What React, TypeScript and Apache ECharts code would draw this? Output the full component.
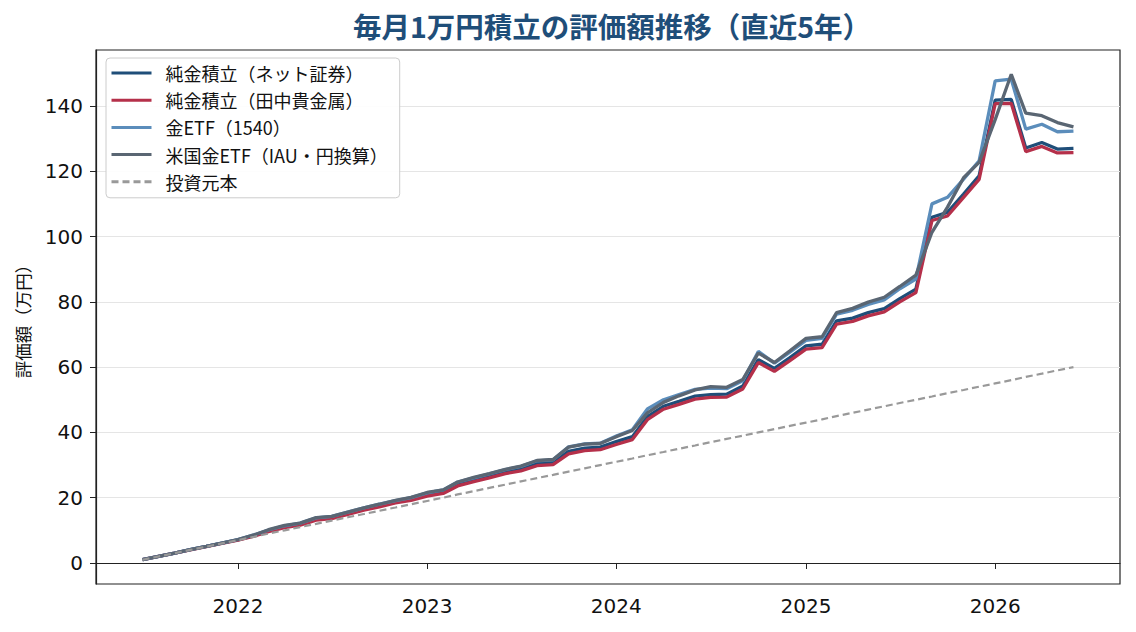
import React, { useEffect, useRef } from "react";
import * as echarts from "echarts";

// Month-end valuation points, July 2021 through June 2026
const months: string[] = [
  "2021-07-01", "2021-08-01", "2021-09-01", "2021-10-01", "2021-11-01", "2021-12-01",
  "2022-01-01", "2022-02-01", "2022-03-01", "2022-04-01", "2022-05-01", "2022-06-01",
  "2022-07-01", "2022-08-01", "2022-09-01", "2022-10-01", "2022-11-01", "2022-12-01",
  "2023-01-01", "2023-02-01", "2023-03-01", "2023-04-01", "2023-05-01", "2023-06-01",
  "2023-07-01", "2023-08-01", "2023-09-01", "2023-10-01", "2023-11-01", "2023-12-01",
  "2024-01-01", "2024-02-01", "2024-03-01", "2024-04-01", "2024-05-01", "2024-06-01",
  "2024-07-01", "2024-08-01", "2024-09-01", "2024-10-01", "2024-11-01", "2024-12-01",
  "2025-01-01", "2025-02-01", "2025-03-01", "2025-04-01", "2025-05-01", "2025-06-01",
  "2025-07-01", "2025-08-01", "2025-09-01", "2025-10-01", "2025-11-01", "2025-12-01",
  "2026-01-01", "2026-02-01", "2026-03-01", "2026-04-01", "2026-05-01", "2026-06-01",
];

// 純金積立（ネット証券）
const netBroker: number[] = [
  1.0, 2.0, 3.0, 4.1, 5.1, 6.1, 7.1, 8.4, 9.9, 11.2, 12.0, 13.5,
  14.0, 15.3, 16.6, 17.7, 18.9, 19.7, 21.1, 21.9, 24.3, 25.6, 26.8, 28.1,
  28.9, 30.6, 30.9, 34.2, 35.2, 35.5, 37.2, 38.7, 44.8, 48.0, 49.5, 51.1,
  51.6, 51.7, 54.2, 62.3, 59.6, 62.9, 66.5, 67.0, 74.2, 75.0, 76.7, 77.9,
  81.0, 83.9, 105.9, 107.4, 113.0, 118.6, 141.8, 142.0, 127.1, 128.8, 126.8, 127.0,
];

// 純金積立（田中貴金属）
const tanaka: number[] = [
  1.0, 2.0, 3.0, 4.0, 5.0, 6.0, 7.0, 8.2, 9.6, 10.8, 11.6, 13.1,
  13.6, 14.9, 16.2, 17.2, 18.4, 19.2, 20.5, 21.3, 23.6, 24.9, 26.1, 27.4,
  28.2, 29.8, 30.1, 33.4, 34.4, 34.7, 36.3, 37.8, 43.9, 47.1, 48.6, 50.2,
  50.7, 50.8, 53.3, 61.4, 58.7, 62.0, 65.5, 66.0, 73.2, 74.0, 75.7, 76.9,
  80.0, 82.8, 104.9, 106.3, 112.0, 117.5, 140.7, 140.8, 126.0, 127.6, 125.6, 125.7,
];

// 金ETF（1540）
const etf1540: number[] = [
  1.0, 2.0, 3.0, 4.1, 5.1, 6.1, 7.2, 8.6, 10.1, 11.4, 12.2, 13.8,
  14.3, 15.6, 16.9, 18.0, 19.1, 20.0, 21.5, 22.4, 24.8, 26.1, 27.3, 28.6,
  29.6, 31.3, 31.6, 35.6, 36.5, 36.7, 38.9, 40.8, 47.2, 50.0, 51.6, 53.2,
  53.6, 53.4, 55.8, 64.8, 61.2, 64.6, 68.2, 68.8, 76.2, 77.4, 79.2, 80.6,
  84.0, 87.0, 110.0, 112.0, 117.6, 123.2, 147.7, 148.2, 132.9, 134.4, 132.1, 132.3,
];

// 米国金ETF（IAU・円換算）
const iauYen: number[] = [
  1.0, 2.0, 3.0, 4.1, 5.1, 6.1, 7.2, 8.6, 10.2, 11.5, 12.2, 13.9,
  14.3, 15.6, 16.9, 18.0, 19.2, 20.1, 21.6, 22.4, 24.8, 26.2, 27.4, 28.7,
  29.7, 31.4, 31.7, 35.5, 36.4, 36.6, 38.7, 40.6, 46.0, 49.2, 51.2, 53.0,
  54.0, 53.8, 56.2, 64.3, 61.4, 65.0, 68.8, 69.3, 76.7, 78.0, 79.9, 81.4,
  84.7, 88.2, 101.3, 109.0, 118.0, 122.7, 135.8, 149.7, 137.8, 137.0, 134.9, 133.6,
];

// 投資元本 (1万円 per month, cumulative)
const principal: number[] = [
  1, 2, 3, 4, 5, 6, 7, 8, 9, 10, 11, 12,
  13, 14, 15, 16, 17, 18, 19, 20, 21, 22, 23, 24,
  25, 26, 27, 28, 29, 30, 31, 32, 33, 34, 35, 36,
  37, 38, 39, 40, 41, 42, 43, 44, 45, 46, 47, 48,
  49, 50, 51, 52, 53, 54, 55, 56, 57, 58, 59, 60,
];

const yTicks: number[] = [0, 20, 40, 60, 80, 100, 120, 140];
const xTickYears: string[] = ["2022-01-01", "2023-01-01", "2024-01-01", "2025-01-01", "2026-01-01"];

const FONT = "'Noto Sans CJK JP', 'Noto Sans', sans-serif";
const NUM_FONT = "'DejaVu Sans', 'Noto Sans CJK JP', sans-serif";

const ts = (d: string) => Date.parse(d + "T00:00:00Z");
const pair = (vals: number[]) => vals.map((v, i) => [ts(months[i]), v]);

export default function App() {
  const ref = useRef<HTMLDivElement>(null);

  useEffect(() => {
    if (!ref.current) return;
    const chart = echarts.init(ref.current, undefined, { renderer: "svg" });

    const t0 = ts(months[0]);
    const t1 = ts(months[months.length - 1]);
    const padT = (t1 - t0) * 0.05;
    const vMin = 1;
    const vMax = 149.7;
    const padV = (vMax - vMin) * 0.05;
    const xTickValues = xTickYears.map(ts);

    const lineSeries = (name: string, vals: number[], color: string, z: number, lineExtra: any = {}) => ({
      name,
      type: "line",
      data: pair(vals),
      symbol: "none",
      showSymbol: false,
      z,
      lineStyle: { color, width: 3.3, ...lineExtra },
      itemStyle: { color },
    });

    chart.setOption({
      animation: false,
      textStyle: { fontFamily: FONT },
      title: {
        text: "毎月1万円積立の評価額推移（直近5年）",
        left: 607,
        textAlign: "center",
        top: 6,
        textStyle: { fontFamily: FONT, fontSize: 28.5, fontWeight: "bold", color: "#1f4e79" },
      },
      legend: {
        orient: "vertical",
        left: 106,
        top: 58,
        padding: [6, 12, 7, 4],
        itemGap: 9.2,
        itemWidth: 40,
        itemHeight: 18,
        backgroundColor: "rgba(255,255,255,0.9)",
        borderColor: "#cccccc",
        borderWidth: 1,
        borderRadius: 4,
        itemStyle: { opacity: 0 },
        lineStyle: { width: 3 },
        textStyle: { fontFamily: FONT, fontSize: 18, lineHeight: 18, color: "#111", padding: [0, 0, 0, 9] },
        data: [
          "純金積立（ネット証券）",
          "純金積立（田中貴金属）",
          "金ETF（1540）",
          "米国金ETF（IAU・円換算）",
          "投資元本",
        ],
      },
      grid: {
        left: 96,
        right: 16,
        top: 50,
        bottom: 48,
        outerBoundsMode: "none",
        containLabel: false,
        show: true,
        borderColor: "#222",
        borderWidth: 1.2,
        backgroundColor: "transparent",
      },
      xAxis: {
        type: "value",
        min: t0 - padT,
        max: t1 + padT,
        axisLine: { show: true, lineStyle: { color: "#222", width: 1.2 } },
        axisTick: {
          show: true,
          length: 6,
          lineStyle: { color: "#222" },
          customValues: xTickValues,
        },
        axisLabel: {
          fontFamily: NUM_FONT,
          fontSize: 20,
          color: "#111",
          margin: 12,
          customValues: xTickValues,
          formatter: (v: number) => String(new Date(v).getUTCFullYear()),
        },
        splitLine: { show: false },
      },
      yAxis: {
        type: "value",
        min: vMin - padV,
        max: vMax + padV,
        name: "評価額（万円）",
        nameLocation: "middle",
        nameGap: 65,
        nameTextStyle: { fontFamily: FONT, fontSize: 17.5, color: "#111" },
        axisLine: { show: true, lineStyle: { color: "#222", width: 1.2 } },
        axisTick: { show: true, length: 6, lineStyle: { color: "#222" }, customValues: yTicks },
        axisLabel: {
          fontFamily: NUM_FONT,
          fontSize: 20,
          color: "#111",
          margin: 13,
          customValues: yTicks,
        },
        splitLine: { show: false },
      },
      series: [
        {
          ...lineSeries("純金積立（ネット証券）", netBroker, "#1f4e79", 2),
          markLine: {
            silent: true,
            symbol: "none",
            label: { show: false },
            lineStyle: { color: "#e5e5e5", width: 1.2, type: "solid" },
            z: 0,
            data: yTicks.map((v) => ({ yAxis: v })),
          },
        },
        lineSeries("純金積立（田中貴金属）", tanaka, "#b5304a", 3),
        lineSeries("金ETF（1540）", etf1540, "#5b8dbb", 4),
        lineSeries("米国金ETF（IAU・円換算）", iauYen, "#5a6673", 5),
        lineSeries("投資元本", principal, "#999999", 6, { width: 2.2, type: [7, 4] }),
      ],
    });

    return () => chart.dispose();
  }, []);

  return (
    <div
      ref={ref}
      style={{ position: "fixed", left: 0, top: 0, width: 1136, height: 632, background: "#fff" }}
    />
  );
}
